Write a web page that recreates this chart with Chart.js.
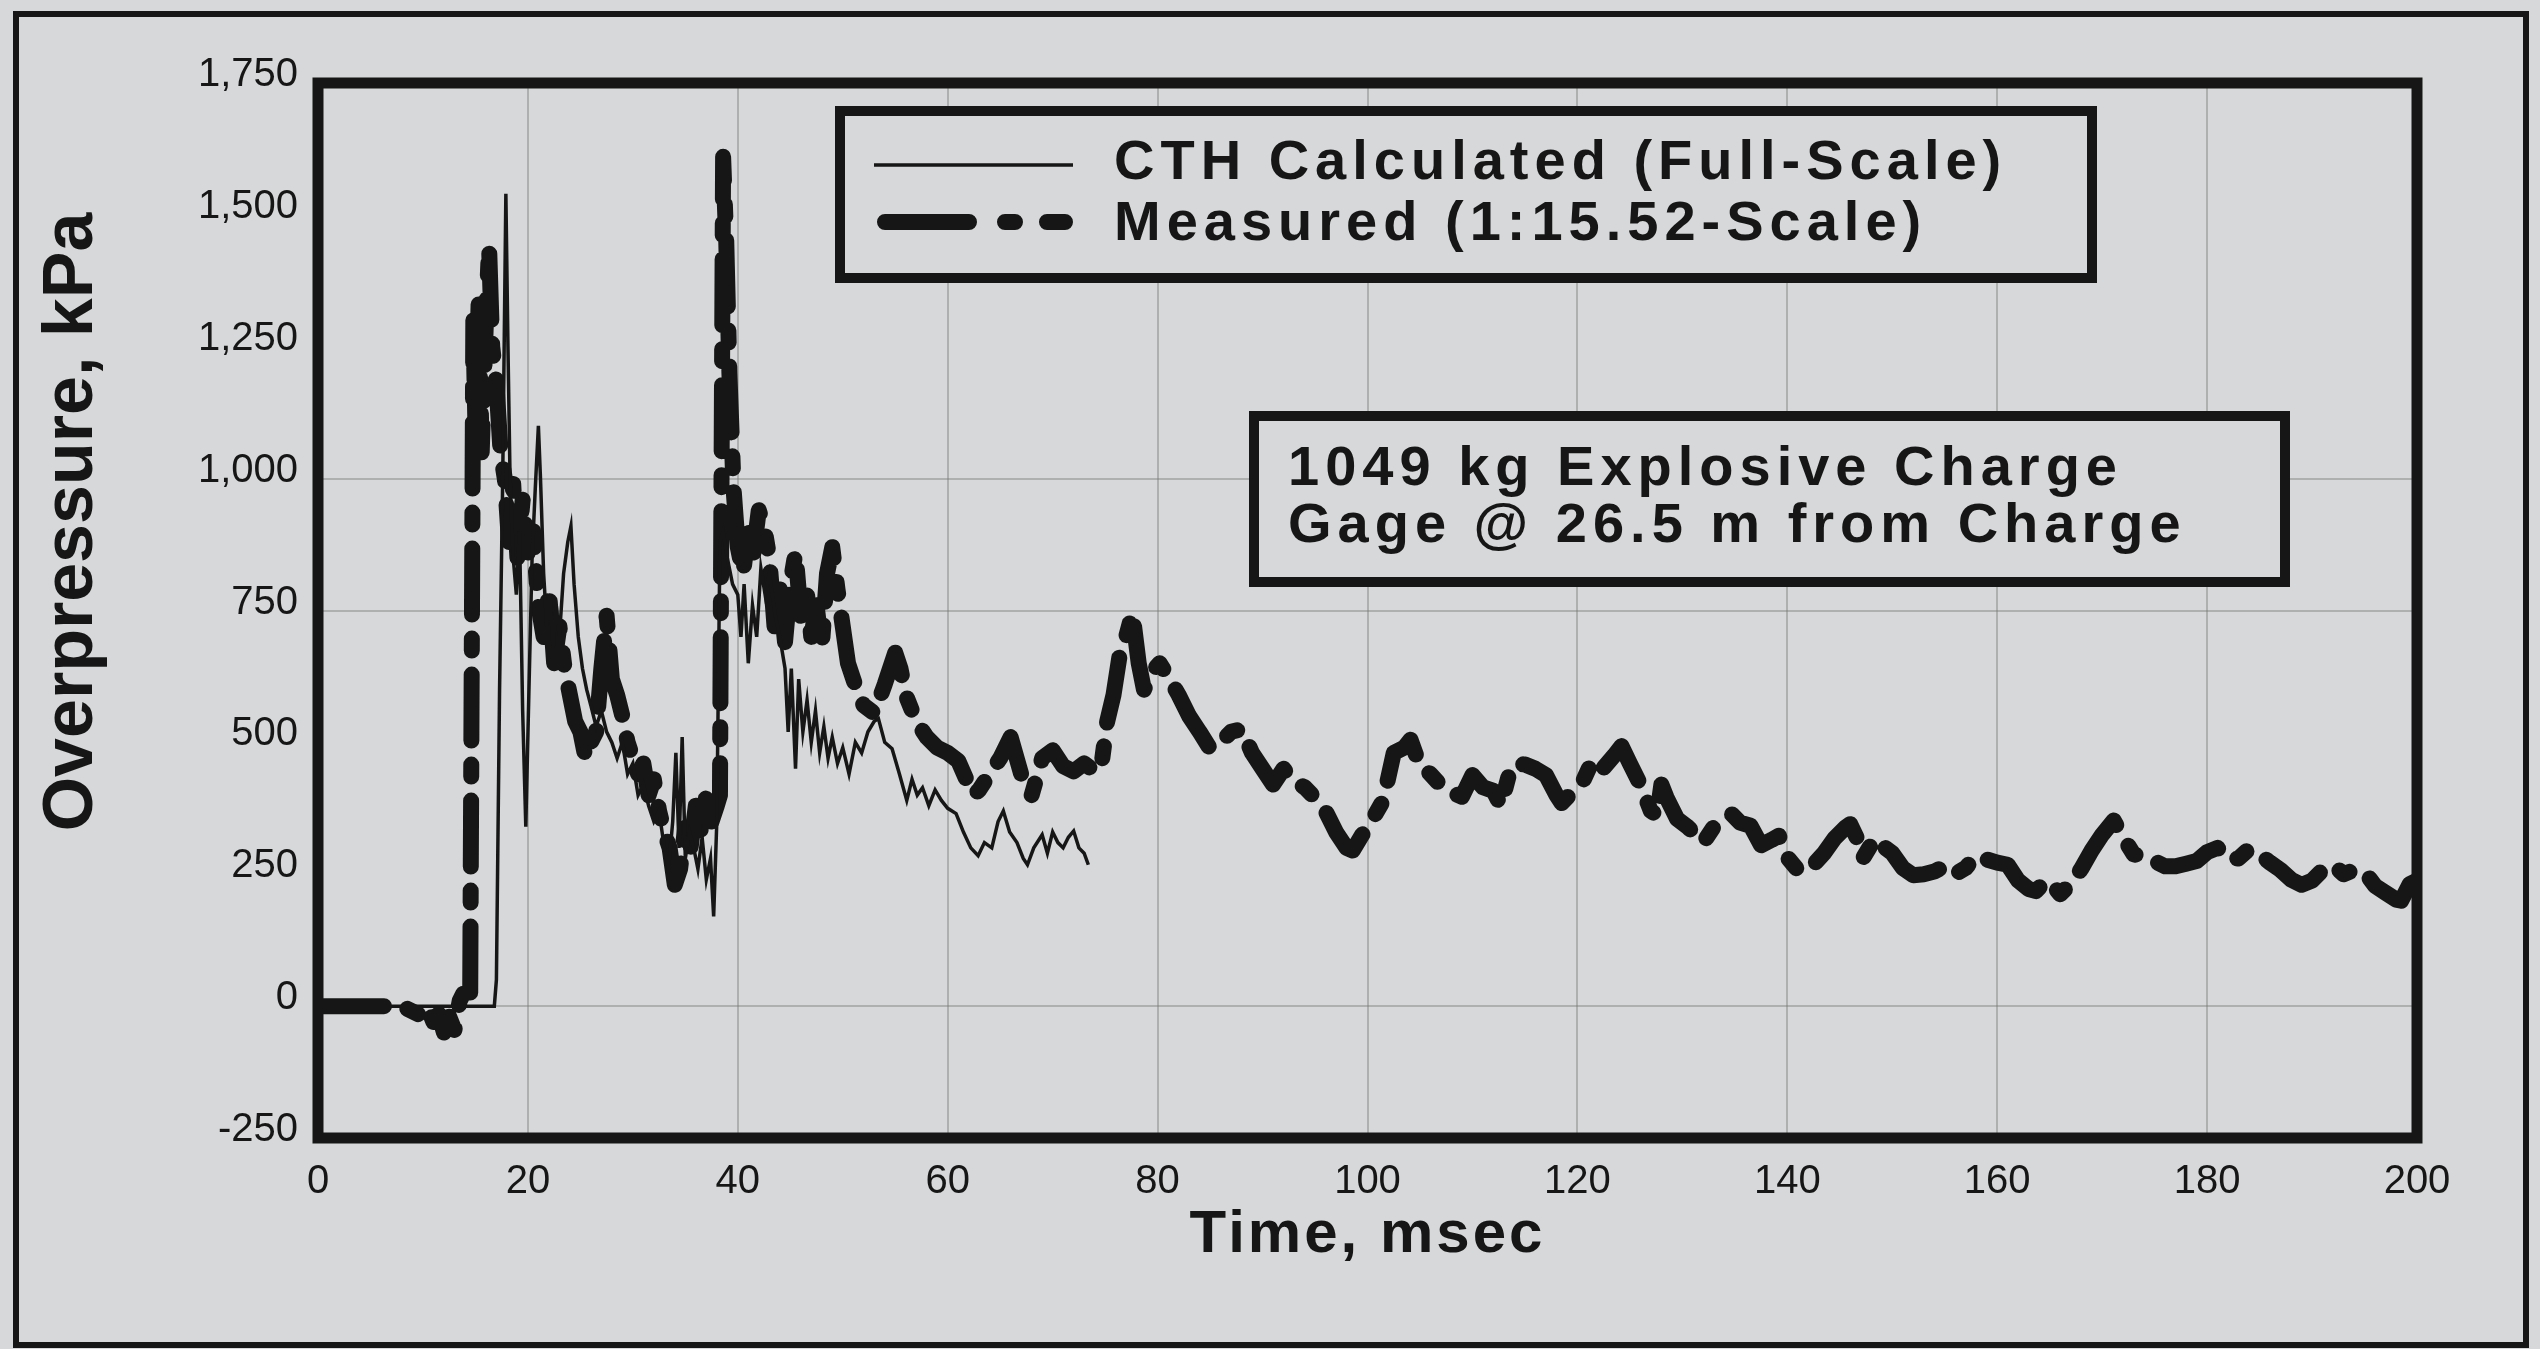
<!DOCTYPE html>
<html>
<head>
<meta charset="utf-8">
<script src="https://cdn.jsdelivr.net/npm/chart.js@4.4.1/dist/chart.umd.min.js"></script>
<style>
  html, body { margin: 0; padding: 0; background: rgb(214,216,217); }
  #wrap { width: 2540px; height: 1349px; position: relative; }
</style>
</head>
<body>
<div id="wrap"><canvas id="blast"></canvas></div>
<script>
// CTH calculated trace (full scale), time in msec / overpressure in kPa
const calcTime = [
  0, 16.8, 17, 17.3, 17.6, 17.9, 18.1, 18.3, 18.6, 18.9,
  19.2, 19.5, 19.8, 20.1, 20.4, 20.7, 21, 21.2, 21.5, 21.8,
  22.1, 22.4, 22.7, 23, 23.4, 23.8, 24.1, 24.4, 24.8, 25.2,
  25.6, 26, 26.5, 27, 27.5, 28, 28.5, 29, 29.5, 30,
  30.5, 31, 31.5, 32, 32.5, 33, 33.4, 33.8, 34.1, 34.4,
  34.7, 35, 35.4, 35.8, 36.2, 36.6, 37, 37.4, 37.7, 38,
  38.3, 38.6, 39, 39.5, 40, 40.3, 40.6, 41, 41.4, 41.8,
  42.2, 42.6, 43, 43.5, 44, 44.5, 44.8, 45.1, 45.5, 45.8,
  46.2, 46.6, 47, 47.4, 47.8, 48.2, 48.6, 49, 49.5, 50,
  50.6, 51.2, 51.8, 52.4, 53, 53.4, 54, 54.7, 55.4, 56.1,
  56.6, 57.1, 57.6, 58.2, 58.8, 59.4, 60, 60.8, 61.5, 62.2,
  62.9, 63.5, 64.2, 64.8, 65.3, 65.9, 66.6, 67.2, 67.6, 68.2,
  69, 69.5, 70, 70.5, 71, 71.5, 72, 72.5, 73, 73.4
];
const calcKpa = [
  0, 0, 50, 600, 1000, 1540, 1250, 1000, 850, 780,
  900, 560, 340, 600, 850, 980, 1100, 1000, 820, 720,
  780, 680, 760, 700, 820, 880, 910, 800, 700, 640,
  600, 570, 530, 560, 520, 500, 470, 500, 440, 460,
  400, 420, 380, 350, 370, 300, 260, 350, 480, 300,
  510, 280, 330, 300, 260, 320, 240, 280, 170, 350,
  880, 900, 850, 800, 780, 700, 800, 650, 760, 700,
  830, 780, 820, 750, 700, 640, 520, 640, 450, 620,
  520, 580, 500, 560, 480, 530, 470, 510, 460, 490,
  440, 500, 480, 520, 540, 545, 500, 488, 440, 390,
  430, 400, 414, 380, 410, 390, 375, 365, 330, 300,
  285, 310, 300, 350, 370, 330, 310, 280, 268, 300,
  325, 290, 330, 310, 300, 320, 332, 300, 290, 268
];

// measured trace (1:15.52 scale)
const measTime = [
  0, 6, 8, 9, 10, 10.5, 11, 11.5, 12, 12.5,
  13, 13.5, 14, 14.5, 14.8, 15, 15.3, 15.6, 16, 16.3,
  16.6, 17, 17.4, 17.8, 18.2, 18.6, 19, 19.5, 20, 20.5,
  21, 21.5, 22, 22.5, 23, 23.5, 24, 24.5, 25, 25.5,
  26, 26.5, 27, 27.5, 28, 28.5, 29, 29.5, 30, 30.5,
  31, 31.5, 32, 32.5, 33, 33.5, 34, 34.5, 35, 35.5,
  36, 36.5, 37, 37.5, 38, 38.3, 38.6, 38.9, 39.2, 39.6,
  40, 40.5, 41, 41.5, 42, 42.5, 43, 43.5, 44, 44.5,
  45, 45.5, 46, 46.5, 47, 47.5, 48, 48.5, 49, 49.5,
  50, 50.5, 51, 51.5, 52, 53, 54, 55, 55.5, 56,
  57, 58, 59, 60, 61, 62, 62.5, 63, 64, 65,
  66, 67, 68, 69, 70, 71, 72, 73, 74, 74.6,
  75.2, 75.8, 76.5, 77, 77.6, 78.2, 78.7, 79.5, 80.2, 81,
  82, 83, 84, 85, 86, 87, 88, 89, 90, 91,
  92, 93, 94, 95, 96, 97, 98, 98.6, 99.5, 100.5,
  101.5, 102.5, 103.5, 104.1, 105, 106, 107, 108, 109, 110,
  111, 112, 112.7, 113.5, 114, 115, 116, 117, 118, 118.5,
  119.5, 120.5, 121.5, 122.5, 123.5, 124.2, 125, 126, 127, 127.6,
  128, 128.5, 129.5, 130.5, 131.5, 132, 133, 134, 134.7, 135.5,
  136.5, 137.5, 138.5, 139.2, 140, 141, 141.6, 142.5, 143.5, 144.5,
  145.5, 146, 146.6, 147.2, 147.8, 148.4, 149.2, 150, 151, 152,
  153, 154, 155, 156, 157, 158, 159, 160, 161, 162,
  163, 163.7, 164.5, 165, 166, 167, 168, 169, 170, 171.1,
  172, 173, 174, 175, 176, 177, 178, 179, 180, 181,
  182, 183, 184, 185, 186, 187, 188, 189, 190, 191,
  192, 193, 194, 195, 196, 197, 198, 198.5, 199.3, 200
];
const measKpa = [
  0, 0, 0, -10, -20, -5, -30, -15, -50, -20,
  -45, 10, 30, 10, 1300, 1100, 1330, 1050, 1300, 1440,
  1250, 1180, 1050, 1000, 880, 990, 850, 960, 860, 900,
  760, 700, 790, 650, 720, 640, 590, 540, 520, 470,
  500, 520, 640, 740, 620, 590, 550, 500, 470, 440,
  460, 400, 430, 370, 330, 300, 230, 260, 340, 300,
  380, 330, 400, 350, 380, 400, 1610, 1450, 1200, 980,
  870, 820, 900, 860, 940, 910, 850, 720, 790, 690,
  800, 860, 740, 800, 700, 760, 680, 820, 870, 790,
  720, 650, 620, 590, 570, 555, 610, 670, 640, 590,
  540, 510, 490, 480, 465, 420, 400, 410, 440, 470,
  510, 440, 400, 470, 485, 455, 445, 460, 445, 450,
  540, 590, 680, 700, 745, 650, 600, 635, 650, 625,
  590, 550, 520, 488, 500, 520, 525, 480, 450, 420,
  450, 425, 415, 395, 370, 330, 300, 295, 325, 355,
  390, 480, 490, 505, 455, 440, 418, 405, 397, 438,
  415, 408, 380, 440, 460, 458, 450, 438, 400, 385,
  405, 425, 468, 452, 475, 493, 460, 420, 370, 362,
  420, 395, 355, 340, 320, 310, 340, 355, 364, 348,
  342, 305, 315, 323, 282, 258, 255, 268, 290, 318,
  338, 345, 320, 280, 300, 318, 302, 290, 262, 248,
  250, 255, 265, 250, 262, 285, 278, 272, 268, 238,
  222, 218, 235, 237, 212, 232, 260, 295, 325, 352,
  320, 288, 283, 275, 265, 265, 270, 275, 292, 300,
  278, 280, 298, 288, 272, 258, 240, 230, 238, 258,
  268, 250, 258, 255, 228, 215, 202, 200, 231, 238
];

const timeTicks = [0, 20, 40, 60, 80, 100, 120, 140, 160, 180, 200];
const kpaTicks = [-250, 0, 250, 500, 750, 1000, 1250, 1500, 1750];
const kpaGridShown = [0, 750, 1000];

const noteLines = ['1049 kg Explosive Charge', 'Gage @ 26.5 m from Charge'];
const xTitle = 'Time, msec';
const yTitle = 'Overpressure, kPa';

const paper = 'rgb(214,216,217)';
const ink = '#161616';
const gridInk = 'rgba(110,110,110,0.38)';
const face = '"Liberation Sans", Arial, sans-serif';

function toPoints(xs, ys) {
    return xs.map((x, i) => ({ x: x, y: ys[i] }));
}

function drawBox(ctx, x1, y1, x2, y2) {
    ctx.fillStyle = paper;
    ctx.fillRect(x1, y1, x2 - x1, y2 - y1);
    ctx.strokeStyle = ink;
    ctx.lineWidth = 10;
    ctx.strokeRect(x1, y1, x2 - x1, y2 - y1);
}

const scanPlugin = {
    id: 'scan',
    beforeDraw(chart) {
        const ctx = chart.ctx;
        ctx.save();
        ctx.fillStyle = paper;
        ctx.fillRect(0, 0, chart.width, chart.height);
        ctx.strokeStyle = ink;
        ctx.lineWidth = 6;
        ctx.strokeRect(16, 14, 2510, 1331);
        ctx.restore();
    },
    afterDatasetsDraw(chart) {
        const ctx = chart.ctx;
        const a = chart.chartArea;
        const sets = chart.data.datasets;
        ctx.save();

        // plot frame
        ctx.strokeStyle = ink;
        ctx.lineWidth = 11;
        ctx.strokeRect(a.left, a.top, a.right - a.left, a.bottom - a.top);

        // legend box
        drawBox(ctx, 840, 111, 2092, 278);
        ctx.lineCap = 'butt';
        ctx.strokeStyle = ink;
        ctx.lineWidth = sets[0].borderWidth;
        ctx.beginPath();
        ctx.moveTo(874, 165);
        ctx.lineTo(1073, 165);
        ctx.stroke();
        ctx.lineWidth = sets[1].borderWidth;
        ctx.lineCap = 'round';
        ctx.setLineDash([84, 36, 10, 32, 18, 300]);
        ctx.beginPath();
        ctx.moveTo(885, 222);
        ctx.lineTo(1066, 222);
        ctx.stroke();
        ctx.setLineDash([]);

        ctx.fillStyle = ink;
        ctx.font = 'bold 56px ' + face;
        ctx.textAlign = 'left';
        ctx.textBaseline = 'alphabetic';
        ctx.letterSpacing = '6px';
        ctx.fillText(sets[0].label, 1114, 179);
        ctx.fillText(sets[1].label, 1114, 240);

        // charge note
        drawBox(ctx, 1254, 416, 2285, 582);
        ctx.fillStyle = ink;
        ctx.fillText(noteLines[0], 1288, 485);
        ctx.fillText(noteLines[1], 1288, 542);

        // axis titles
        ctx.font = 'bold 60px ' + face;
        ctx.letterSpacing = '3px';
        ctx.textAlign = 'center';
        ctx.fillText(xTitle, (a.left + a.right) / 2, 1252);

        ctx.font = 'bold 70px ' + face;
        ctx.letterSpacing = '0px';
        ctx.translate(92, 522);
        ctx.rotate(-Math.PI / 2);
        ctx.fillText(yTitle, 0, 0);

        ctx.restore();
    }
};

document.addEventListener('DOMContentLoaded', function() {
    const ctx = document.getElementById('blast').getContext('2d');

    new Chart(ctx, {
        type: 'line',
        data: {
            datasets: [{
                label: 'CTH Calculated (Full-Scale)',
                data: toPoints(calcTime, calcKpa),
                borderColor: ink,
                borderWidth: 3.5,
                pointRadius: 0,
                tension: 0
            }, {
                label: 'Measured (1:15.52-Scale)',
                data: toPoints(measTime, measKpa),
                borderColor: ink,
                borderWidth: 16,
                borderDash: [66, 24, 12, 24],
                borderCapStyle: 'round',
                borderJoinStyle: 'round',
                pointRadius: 0,
                tension: 0
            }]
        },
        options: {
            responsive: true,
            maintainAspectRatio: false,
            animation: false,
            layout: { padding: { left: 0, top: 83, right: 123, bottom: 0 } },
            plugins: {
                legend: { display: false },
                tooltip: { enabled: false }
            },
            scales: {
                x: {
                    type: 'linear',
                    min: 0,
                    max: 200,
                    afterFit: s => { s.height = 211; },
                    afterBuildTicks: s => { s.ticks = timeTicks.map(v => ({ value: v })); },
                    border: { display: false },
                    grid: { color: gridInk, lineWidth: 2, drawTicks: false },
                    ticks: {
                        padding: 20,
                        color: ink,
                        maxRotation: 0,
                        autoSkip: false,
                        font: { family: face, size: 40 }
                    }
                },
                y: {
                    type: 'linear',
                    min: -250,
                    max: 1750,
                    afterFit: s => { s.width = 318; },
                    afterBuildTicks: s => { s.ticks = kpaTicks.map(v => ({ value: v })); },
                    border: { display: false },
                    grid: {
                        color: c => (c.tick && kpaGridShown.includes(c.tick.value)) ? gridInk : 'rgba(0,0,0,0)',
                        lineWidth: 2,
                        drawTicks: false
                    },
                    ticks: {
                        padding: 20,
                        labelOffset: -8,
                        color: ink,
                        autoSkip: false,
                        font: { family: face, size: 40 },
                        callback: v => v.toLocaleString('en-US')
                    }
                }
            }
        },
        plugins: [scanPlugin]
    });
});
</script>
</body>
</html>
